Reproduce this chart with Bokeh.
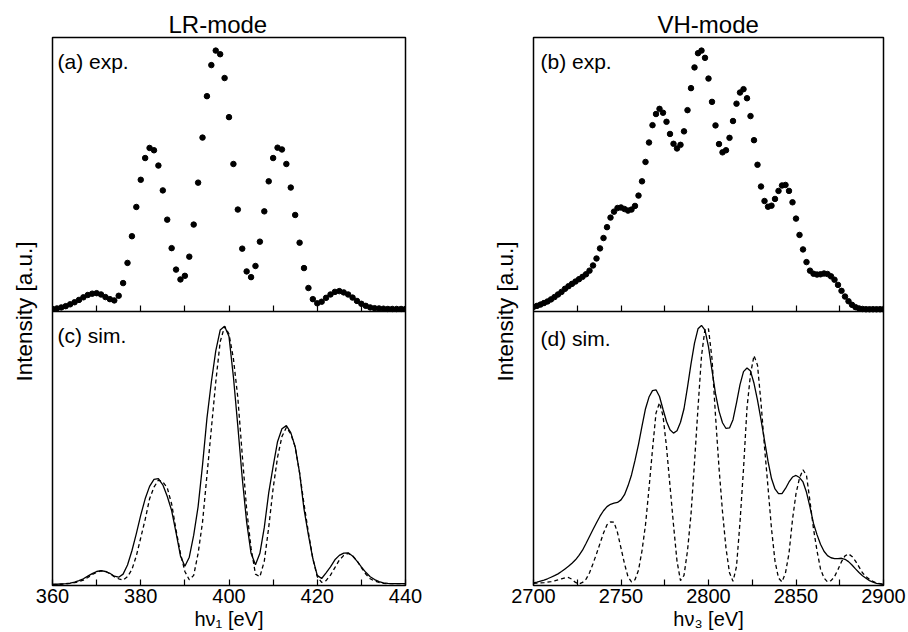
from bokeh.plotting import figure
from bokeh.layouts import row
from bokeh.models import Range1d, FixedTicker, Label, LinearAxis
from bokeh.embed import file_html
from bokeh.resources import INLINE

FONT = "Liberation Sans"

# ---------------- data ----------------
# LR-mode, photon energy hv1 [eV], 1 eV steps
lr_energy = list(range(360, 441))
lr_exp = [
    0.002, 0.004, 0.008, 0.013, 0.020, 0.028, 0.037, 0.047, 0.056, 0.061,
    0.063, 0.058, 0.048, 0.040, 0.035, 0.053, 0.102, 0.180, 0.283, 0.396,
    0.501, 0.585, 0.624, 0.615, 0.556, 0.460, 0.347, 0.237, 0.154, 0.116,
    0.130, 0.204, 0.328, 0.490, 0.664, 0.824, 0.944, 1.000, 0.986, 0.894,
    0.743, 0.562, 0.386, 0.235, 0.147, 0.125, 0.168, 0.262, 0.379, 0.495,
    0.585, 0.625, 0.618, 0.562, 0.471, 0.365, 0.258, 0.160, 0.083, 0.040,
    0.024, 0.030, 0.045, 0.058, 0.068, 0.071, 0.066, 0.058, 0.046, 0.033,
    0.022, 0.014, 0.008, 0.005, 0.004, 0.003, 0.002, 0.002, 0.002, 0.002,
    0.002,
]
lr_sim_solid = [
    0.000, 0.001, 0.002, 0.003, 0.005, 0.009, 0.015, 0.022, 0.032, 0.042,
    0.050, 0.053, 0.050, 0.043, 0.032, 0.028, 0.040, 0.075, 0.130, 0.196,
    0.267, 0.330, 0.378, 0.405, 0.408, 0.384, 0.340, 0.285, 0.200, 0.110,
    0.070, 0.105, 0.190, 0.300, 0.460, 0.640, 0.780, 0.900, 0.980, 0.995,
    0.955, 0.800, 0.610, 0.410, 0.240, 0.120, 0.076, 0.120, 0.220, 0.353,
    0.455, 0.550, 0.600, 0.612, 0.585, 0.530, 0.430, 0.290, 0.190, 0.100,
    0.035, 0.023, 0.045, 0.068, 0.095, 0.112, 0.121, 0.122, 0.110, 0.090,
    0.068, 0.047, 0.030, 0.019, 0.011, 0.006, 0.004, 0.003, 0.003, 0.003,
    0.003,
]
lr_sim_dashed = [
    0.000, 0.000, 0.001, 0.002, 0.004, 0.007, 0.011, 0.017, 0.027, 0.038,
    0.047, 0.052, 0.051, 0.042, 0.030, 0.022, 0.017, 0.030, 0.058, 0.110,
    0.180, 0.250, 0.330, 0.375, 0.402, 0.395, 0.373, 0.310, 0.210, 0.120,
    0.050, 0.018, 0.035, 0.120, 0.240, 0.420, 0.600, 0.780, 0.935, 0.994,
    0.965, 0.870, 0.720, 0.500, 0.290, 0.140, 0.040, 0.030, 0.090, 0.220,
    0.370, 0.490, 0.570, 0.605, 0.580, 0.530, 0.430, 0.310, 0.200, 0.100,
    0.030, 0.008, 0.015, 0.036, 0.065, 0.094, 0.112, 0.120, 0.110, 0.092,
    0.065, 0.040, 0.022, 0.013, 0.008, 0.004, 0.003, 0.003, 0.003, 0.003,
    0.003,
]

# VH-mode, photon energy hv3 [eV], 2 eV steps
vh_energy = list(range(2700, 2901, 2))
vh_exp = [
    0.010, 0.014, 0.019, 0.025, 0.031, 0.039, 0.048, 0.058, 0.068, 0.080,
    0.090, 0.099, 0.108, 0.117, 0.126, 0.136, 0.150, 0.170, 0.197, 0.236,
    0.276, 0.318, 0.355, 0.378, 0.392, 0.394, 0.388, 0.382, 0.386, 0.400,
    0.440, 0.495, 0.570, 0.645, 0.712, 0.755, 0.775, 0.760, 0.725, 0.678,
    0.640, 0.622, 0.636, 0.688, 0.770, 0.855, 0.935, 0.990, 1.000, 0.972,
    0.892, 0.802, 0.711, 0.639, 0.607, 0.615, 0.663, 0.728, 0.795, 0.838,
    0.851, 0.816, 0.747, 0.654, 0.559, 0.475, 0.419, 0.397, 0.401, 0.427,
    0.458, 0.479, 0.481, 0.458, 0.414, 0.351, 0.288, 0.232, 0.183, 0.150,
    0.138, 0.135, 0.136, 0.139, 0.137, 0.128, 0.115, 0.095, 0.072, 0.050,
    0.032, 0.018, 0.009, 0.004, 0.002, 0.001, 0.001, 0.001, 0.001, 0.001,
    0.001,
]
vh_sim_solid = [
    0.006, 0.009, 0.013, 0.017, 0.022, 0.028, 0.034, 0.041, 0.050, 0.060,
    0.070, 0.082, 0.095, 0.112, 0.132, 0.158, 0.185, 0.212, 0.238, 0.263,
    0.284, 0.300, 0.309, 0.313, 0.316, 0.326, 0.346, 0.380, 0.422, 0.478,
    0.540, 0.610, 0.677, 0.722, 0.747, 0.750, 0.724, 0.675, 0.628, 0.596,
    0.583, 0.592, 0.625, 0.677, 0.760, 0.850, 0.930, 0.985, 0.998, 0.980,
    0.915, 0.825, 0.735, 0.668, 0.623, 0.601, 0.603, 0.635, 0.700, 0.770,
    0.820, 0.834, 0.822, 0.775, 0.710, 0.635, 0.555, 0.475, 0.408, 0.368,
    0.350, 0.350, 0.370, 0.395, 0.414, 0.420, 0.412, 0.395, 0.355, 0.298,
    0.235, 0.192, 0.155, 0.128, 0.111, 0.103, 0.100, 0.100, 0.101, 0.097,
    0.088, 0.075, 0.060, 0.046, 0.034, 0.024, 0.015, 0.009, 0.004, 0.002,
    0.000,
]
vh_sim_dashed = [
    0.004, 0.005, 0.006, 0.007, 0.009, 0.011, 0.014, 0.018, 0.022, 0.026,
    0.027, 0.020, 0.008, 0.002, 0.008, 0.020, 0.045, 0.080, 0.118, 0.158,
    0.198, 0.230, 0.241, 0.240, 0.200, 0.140, 0.080, 0.030, 0.010, 0.018,
    0.055, 0.130, 0.230, 0.370, 0.520, 0.660, 0.700, 0.650, 0.530, 0.380,
    0.230, 0.090, 0.015, 0.035, 0.130, 0.270, 0.470, 0.680, 0.880, 0.985,
    0.985, 0.870, 0.650, 0.450, 0.280, 0.140, 0.045, 0.012, 0.069, 0.240,
    0.445, 0.680, 0.810, 0.882, 0.845, 0.700, 0.530, 0.375, 0.215, 0.090,
    0.025, 0.010, 0.045, 0.120, 0.250, 0.350, 0.410, 0.442, 0.420, 0.320,
    0.215, 0.130, 0.060, 0.025, 0.010, 0.015, 0.030, 0.058, 0.088, 0.110,
    0.118, 0.108, 0.090, 0.068, 0.045, 0.030, 0.020, 0.012, 0.006, 0.003,
    0.000,
]

lr_major_ticks = [360, 380, 400, 420, 440]
lr_minor_ticks = [370, 390, 410, 430]
lr_tick_labels = ["360", "380", "400", "420", "440"]
vh_major_ticks = [2700, 2750, 2800, 2850, 2900]
vh_minor_ticks = [2725, 2775, 2825, 2875]
vh_tick_labels = ["2700", "2750", "2800", "2850", "2900"]

titles = ["LR-mode", "VH-mode"]
panel_tags = [["(a) exp.", "(c) sim."], ["(b) exp.", "(d) sim."]]
x_label = ["h\u03bd\u2081 [eV]", "h\u03bd\u2083 [eV]"]
y_label = "Intensity [a.u.]"

# vertical scales: lower panel on the default range, upper panel on range "top"
BOT_RANGE = (-0.0039, 2.1071)
TOP_RANGE = (-1.0661, 1.0506)
DIVIDER = 1.0516          # upper edge of the lower panel, default-range units


def make_panel(xlo, xhi, majors, minors, labels, title, title_shift, tags, xlab,
               x_exp, y_exp, x_sim, y_solid, y_dashed,
               width, mb_left, mb_right, tag_dx, tag_dy):
    p = figure(width=width, height=632, x_range=Range1d(xlo, xhi),
               y_range=Range1d(*BOT_RANGE), title=title,
               output_backend="svg", toolbar_location=None,
               min_border_left=mb_left, min_border_right=mb_right,
               min_border_top=37, min_border_bottom=0)
    p.extra_y_ranges = {"top": Range1d(*TOP_RANGE)}
    p.grid.visible = False
    p.outline_line_color = "black"
    p.outline_line_width = 1.5
    p.background_fill_color = "white"
    p.border_fill_color = "white"

    p.title.align = "left"
    p.title.offset = title_shift
    p.title.text_font = FONT
    p.title.text_font_size = "24px"
    p.title.text_font_style = "normal"
    p.title.text_color = "black"
    p.title.standoff = 0

    # left axis: only the label
    ya = p.yaxis[0]
    ya.ticker = FixedTicker(ticks=[])
    ya.axis_line_color = None
    ya.major_tick_in = 0
    ya.major_tick_out = 0
    ya.minor_tick_in = 0
    ya.minor_tick_out = 0
    ya.major_label_standoff = 0
    ya.axis_label = y_label
    ya.axis_label_text_font = FONT
    ya.axis_label_text_font_size = "22.5px"
    ya.axis_label_text_font_style = "normal"
    ya.axis_label_text_color = "black"
    ya.axis_label_standoff = 16

    # bottom axis of the lower panel
    xa = p.xaxis[0]
    xa.ticker = FixedTicker(ticks=majors, minor_ticks=minors)
    xa.major_label_overrides = {float(t): s for t, s in zip(majors, labels)}
    xa.major_tick_in = 6
    xa.major_tick_out = 0
    xa.minor_tick_in = 6
    xa.minor_tick_out = 0
    xa.major_tick_line_width = 1.2
    xa.minor_tick_line_width = 1.2
    xa.axis_line_color = None
    xa.major_label_text_font = FONT
    xa.major_label_text_font_size = "20px"
    xa.major_label_text_color = "black"
    xa.major_label_standoff = 3
    xa.axis_label = xlab
    xa.axis_label_text_font = FONT
    xa.axis_label_text_font_size = "20px"
    xa.axis_label_text_font_style = "normal"
    xa.axis_label_text_color = "black"
    xa.axis_label_standoff = 2

    # bottom edge of the upper panel (divider line with inward ticks)
    da = LinearAxis(fixed_location=DIVIDER,
                    ticker=FixedTicker(ticks=[], minor_ticks=majors + minors))
    da.axis_line_color = "black"
    da.axis_line_width = 1.5
    da.minor_tick_in = 6
    da.minor_tick_out = 0
    da.minor_tick_line_width = 1.2
    da.major_tick_in = 0
    da.major_tick_out = 0
    da.major_label_standoff = 0
    p.add_layout(da, "below")

    p.scatter(x_exp, y_exp, size=5.5, color="black", marker="circle",
              y_range_name="top")
    p.line(x_sim, y_solid, line_color="black", line_width=1.3)
    p.line(x_sim, y_dashed, line_color="black", line_width=1.3, line_dash="4 3")

    p.add_layout(Label(x=xlo, y=TOP_RANGE[1], y_range_name="top",
                       x_offset=tag_dx[0], y_offset=-tag_dy[0],
                       text=tags[0], text_font=FONT, text_font_size="21px",
                       text_color="black",
                       text_baseline="alphabetic", text_align="left"))
    p.add_layout(Label(x=xlo, y=DIVIDER,
                       x_offset=tag_dx[1], y_offset=-tag_dy[1],
                       text=tags[1], text_font=FONT, text_font_size="21px",
                       text_color="black",
                       text_baseline="alphabetic", text_align="left"))
    return p


left = make_panel(360, 440, lr_major_ticks, lr_minor_ticks, lr_tick_labels,
                  titles[0], 116, panel_tags[0], x_label[0],
                  lr_energy, lr_exp, lr_energy, lr_sim_solid, lr_sim_dashed,
                  422, 52, 17, (5, 5), (24, 24))
right = make_panel(2700, 2900, vh_major_ticks, vh_minor_ticks, vh_tick_labels,
                   titles[1], 124, panel_tags[1], x_label[1],
                   vh_energy, vh_exp, vh_energy, vh_sim_solid, vh_sim_dashed,
                   484, 111, 23, (7, 7), (24, 27))

p = row(left, right, spacing=0)

open("out.html", "w").write(file_html(p, INLINE))
